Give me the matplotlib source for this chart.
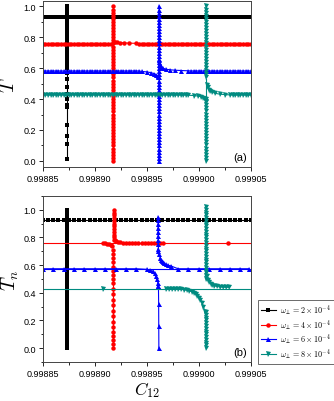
import matplotlib.pyplot as plt
from matplotlib.ticker import MultipleLocator
import numpy as np

plt.rcParams['font.family'] = ['Liberation Sans', 'DejaVu Sans']
plt.rcParams['mathtext.fontset'] = 'cm'

# C12 = C0 + u * 1e-5  (u is the position in units of 1e-5)
C0 = 0.99885
UNIT = 1e-5

# dense sampling used for the flat branches
grid_u = [0.0, 0.25, 0.5, 0.75, 1.0, 1.25, 1.5, 1.75, 2.0, 2.25, 2.5, 2.75,
          3.0, 3.25, 3.5, 3.75, 4.0, 4.25, 4.5, 4.75, 5.0, 5.25, 5.5, 5.75,
          6.0, 6.25, 6.5, 6.75, 7.0, 7.25, 7.5, 7.75, 8.0, 8.25, 8.5, 8.75,
          9.0, 9.25, 9.5, 9.75, 10.0, 10.25, 10.5, 10.75, 11.0, 11.25, 11.5,
          11.75, 12.0, 12.25, 12.5, 12.75, 13.0, 13.25, 13.5, 13.75, 14.0,
          14.25, 14.5, 14.75, 15.0, 15.25, 15.5, 15.75, 16.0, 16.25, 16.5,
          16.75, 17.0, 17.25, 17.5, 17.75, 18.0, 18.25, 18.5, 18.75, 19.0,
          19.25, 19.5, 19.75, 20.0]

# dense points along a resonance column
vert_full = [0.0, 0.02, 0.04, 0.06, 0.08, 0.1, 0.12, 0.14, 0.16, 0.18, 0.2,
             0.22, 0.24, 0.26, 0.28, 0.3, 0.32, 0.34, 0.36, 0.38, 0.4, 0.42,
             0.44, 0.46, 0.48, 0.5, 0.52, 0.54, 0.56, 0.58, 0.6, 0.62, 0.64,
             0.66, 0.68, 0.7, 0.72, 0.74, 0.76, 0.78, 0.8, 0.82, 0.84, 0.86,
             0.88, 0.9, 0.92, 0.94, 0.96, 0.98, 1.0]

# resonance positions (u)
res_black = 2.3
res_red = 6.76
res_blue = 11.16
res_teal = 15.7

# ---------------- panel (a) ----------------
black_a_level = 0.933
black_a_sparse = [0.66, 0.64, 0.62, 0.6, 0.57, 0.53, 0.48, 0.43, 0.4, 0.36,
                  0.35, 0.23, 0.16, 0.11, 0.015]

red_a_level = 0.759
red_a_left_u = [6.0, 6.3, 6.55]
red_a_left_y = [0.757, 0.755, 0.754]
red_a_right_u = [6.9, 7.1, 7.4, 7.8, 8.3, 9.0]
red_a_right_y = [0.772, 0.769, 0.766, 0.764, 0.762, 0.761]

blue_a_level = 0.582
blue_a_left_u = [9.5, 10.0, 10.4, 10.7, 10.9, 11.05, 11.12]
blue_a_left_y = [0.579, 0.576, 0.571, 0.565, 0.558, 0.55, 0.54]
blue_a_right_u = [11.22, 11.3, 11.4, 11.55, 11.8, 12.2, 12.7, 13.3, 14.0]
blue_a_right_y = [0.65, 0.625, 0.61, 0.6, 0.594, 0.59, 0.587, 0.585, 0.583]

teal_a_level = 0.426
teal_a_left_u = [14.0, 14.5, 14.9, 15.2, 15.4, 15.55, 15.65]
teal_a_left_y = [0.425, 0.423, 0.42, 0.415, 0.408, 0.4, 0.39]
teal_a_right_u = [15.78, 15.85, 15.95, 16.1, 16.3, 16.6, 17.0, 17.5, 18.0]
teal_a_right_y = [0.49, 0.475, 0.462, 0.452, 0.444, 0.437, 0.432, 0.429, 0.427]

# ---------------- panel (b) ----------------
black_b_level = 0.928

red_b_level = 0.759
red_b_left_u = [5.8, 6.0, 6.2, 6.4, 6.55, 6.65]
red_b_left_y = [0.759, 0.758, 0.756, 0.752, 0.745, 0.735]
red_b_low = [0.0, 0.03, 0.06, 0.09, 0.12, 0.15, 0.19, 0.23, 0.27, 0.31, 0.35,
             0.39, 0.43, 0.47, 0.5, 0.53, 0.56, 0.59, 0.62, 0.65, 0.68, 0.71]
red_b_high = [0.8, 0.82, 0.84, 0.86, 0.88, 0.9, 0.92, 0.94, 0.96, 0.98, 1.0]
red_b_right_u = [6.85, 6.95, 7.05, 7.2, 7.4, 7.7, 8.0, 8.3, 8.6, 8.9, 9.2,
                 9.5, 9.8, 10.1, 10.4, 10.7, 11.0, 11.3, 11.6, 17.8]
red_b_right_y = [0.785, 0.78, 0.774, 0.769, 0.765, 0.762, 0.761, 0.76, 0.76,
                 0.76, 0.76, 0.76, 0.76, 0.76, 0.76, 0.76, 0.76, 0.76, 0.76,
                 0.759]

blue_b_level = 0.574
blue_b_left_u = [0, 1, 2, 3, 4, 5, 6, 7, 8, 9, 10, 10.3, 10.55, 10.75,
                 10.9, 11.0, 11.08, 11.12]
blue_b_left_y = [0.574, 0.574, 0.574, 0.574, 0.574, 0.574, 0.574, 0.574,
                 0.574, 0.574, 0.57, 0.565, 0.555, 0.54, 0.52, 0.5, 0.47, 0.45]
blue_b_low_u = [11.14, 11.15, 11.16]
blue_b_low_y = [0.32, 0.16, 0.0]
blue_b_up_y = [0.95, 0.93, 0.9, 0.87, 0.84, 0.81, 0.78, 0.75, 0.72, 0.7]
blue_b_right_u = [11.22, 11.3, 11.38, 11.46, 11.55, 11.65, 11.8, 12.0, 12.3,
                  13, 14, 15, 16, 17, 18, 19, 19.8]
blue_b_right_y = [0.68, 0.655, 0.64, 0.63, 0.62, 0.612, 0.606, 0.6, 0.595,
                  0.574, 0.574, 0.574, 0.574, 0.574, 0.574, 0.574, 0.574]

teal_b_level = 0.43
teal_b_single_u = [5.8]
teal_b_left_u = [11.8, 12.1, 12.4, 12.7, 13.0, 13.3, 13.6, 13.9, 14.1, 14.3,
                 14.5, 14.7, 14.85, 15.0, 15.15, 15.3, 15.45, 15.6]
teal_b_left_y = [0.43, 0.43, 0.429, 0.428, 0.427, 0.425, 0.422, 0.418, 0.414,
                 0.408, 0.4, 0.39, 0.38, 0.365, 0.35, 0.33, 0.3, 0.26]
teal_b_right_u = [15.8, 15.9, 16.0, 16.15, 16.3, 16.5, 16.75, 17.0, 17.3,
                  17.6, 17.9]
teal_b_right_y = [0.52, 0.495, 0.48, 0.467, 0.458, 0.451, 0.446, 0.443,
                  0.441, 0.44, 0.44]

colors = {'black': 'black', 'red': '#ff0000', 'blue': '#0000ff', 'teal': '#008b80'}
mk = {'black': 's', 'red': 'o', 'blue': '^', 'teal': 'v'}
ms = {'black': 2.8, 'red': 3.2, 'blue': 3.6, 'teal': 3.6}


def cx(u):
    return C0 + np.asarray(u, dtype=float) * UNIT


def pts(ax, key, u, y, line=True):
    ax.plot(cx(u), y, marker=mk[key], ms=ms[key], mew=0, color=colors[key],
            lw=0.8 if line else 0, ls='-' if line else 'none')


def column(ax, key, u0, ys):
    pts(ax, key, [u0] * len(ys), ys)


fig = plt.figure(figsize=(3.34, 4.02), dpi=100)
ax1 = fig.add_axes([0.128, 0.582, 0.623, 0.413])
ax2 = fig.add_axes([0.128, 0.097, 0.623, 0.413])

# ---- panel (a)
pts(ax1, 'black', grid_u, [black_a_level] * len(grid_u))
column(ax1, 'black', res_black,
       [v for v in vert_full if v >= 0.68] + black_a_sparse)

fl = [u for u in grid_u if u < 6.0]
fr = [u for u in grid_u if u > 9.0]
pts(ax1, 'red', fl + red_a_left_u, [red_a_level] * len(fl) + red_a_left_y)
pts(ax1, 'red', red_a_right_u + fr, red_a_right_y + [red_a_level] * len(fr))
column(ax1, 'red', res_red, vert_full)

fl = [u for u in grid_u if u < 9.5]
fr = [u for u in grid_u if u > 14.0]
pts(ax1, 'blue', fl + blue_a_left_u, [blue_a_level] * len(fl) + blue_a_left_y)
pts(ax1, 'blue', blue_a_right_u + fr, blue_a_right_y + [blue_a_level] * len(fr))
column(ax1, 'blue', res_blue, vert_full)

fl = [u for u in grid_u if u < 14.0]
fr = [u for u in grid_u if u > 18.0]
pts(ax1, 'teal', fl + teal_a_left_u, [teal_a_level] * len(fl) + teal_a_left_y)
pts(ax1, 'teal', teal_a_right_u + fr, teal_a_right_y + [teal_a_level] * len(fr))
column(ax1, 'teal', res_teal, [v for v in vert_full if v <= 0.4])
column(ax1, 'teal', res_teal, [v for v in vert_full if v >= 0.53])
ax1.plot(cx([res_teal, res_teal]), [0.4, 0.53], color=colors['teal'], lw=0.8)

# ---- panel (b)
bgrid = grid_u[::2]
pts(ax2, 'black', bgrid, [black_b_level] * len(bgrid))
column(ax2, 'black', res_black, vert_full)

ax2.plot(cx([0, 20]), [red_b_level] * 2, color=colors['red'], lw=0.8)
pts(ax2, 'red', red_b_left_u, red_b_left_y)
column(ax2, 'red', res_red, red_b_low)
column(ax2, 'red', res_red + 0.05, red_b_high)
pts(ax2, 'red', red_b_right_u, red_b_right_y, line=False)

ax2.plot(cx([0, 20]), [blue_b_level] * 2, color=colors['blue'], lw=0.8)
pts(ax2, 'blue', blue_b_left_u, blue_b_left_y)
pts(ax2, 'blue', [11.12] + blue_b_low_u, [0.45] + blue_b_low_y)
column(ax2, 'blue', 11.12, blue_b_up_y)
pts(ax2, 'blue', blue_b_right_u, blue_b_right_y)

ax2.plot(cx([0, 20]), [teal_b_level] * 2, color=colors['teal'], lw=0.8)
pts(ax2, 'teal', teal_b_single_u, [teal_b_level], line=False)
pts(ax2, 'teal', teal_b_left_u, teal_b_left_y)
column(ax2, 'teal', res_teal, [v for v in vert_full if v <= 0.26])
column(ax2, 'teal', res_teal, [v for v in vert_full if v >= 0.5] + [1.02])
pts(ax2, 'teal', teal_b_right_u, teal_b_right_y)

for ax, lab, yl, tag, lx in [(ax1, '$T$', (-0.04, 1.035), '(a)', -0.16),
                             (ax2, '$T_n$', (-0.1, 1.1), '(b)', -0.155)]:
    ax.set_xlim(0.99885, 0.99905)
    ax.set_ylim(*yl)
    ax.set_xticks([0.99885, 0.99890, 0.99895, 0.99900, 0.99905])
    ax.set_xticklabels(['0.99885', '0.99890', '0.99895', '0.99900', '0.99905'])
    ax.xaxis.set_minor_locator(MultipleLocator(0.000025))
    ax.set_yticks([0.0, 0.2, 0.4, 0.6, 0.8, 1.0])
    ax.yaxis.set_minor_locator(MultipleLocator(0.1))
    ax.tick_params(which='both', direction='out', labelsize=6.5, width=0.6,
                   top=False, right=False, pad=2)
    ax.tick_params(which='major', length=3)
    ax.tick_params(which='minor', length=1.8)
    for s in ax.spines.values():
        s.set_linewidth(0.7)
        s.set_color('#444444')
    ax.set_ylabel(lab, fontsize=14, va='center')
    ax.yaxis.set_label_coords(lx, 0.5)
    ax.text(0.98, 0.03, tag, transform=ax.transAxes, ha='right', va='bottom',
            fontsize=8)

ax2.set_xlabel('$C_{12}$', fontsize=12.5)
ax2.xaxis.set_label_coords(0.5, -0.1)

labels = [r'$\omega_\perp = 2\times10^{-4}$', r'$\omega_\perp = 4\times10^{-4}$',
          r'$\omega_\perp = 6\times10^{-4}$', r'$\omega_\perp = 8\times10^{-4}$']
handles = [plt.Line2D([], [], color=colors[k], marker=mk[k], ms=ms[k], mew=0, lw=0.8)
           for k in ['black', 'red', 'blue', 'teal']]
leg = ax2.legend(handles, labels, loc='lower left', bbox_to_anchor=(1.036, -0.01),
                 fontsize=5.8, frameon=True, fancybox=False, edgecolor='#444444',
                 handlelength=1.8, labelspacing=0.05, borderpad=0.35,
                 handletextpad=0.6, borderaxespad=0)
leg.get_frame().set_linewidth(0.7)

fig.savefig('out.png', dpi=100)
